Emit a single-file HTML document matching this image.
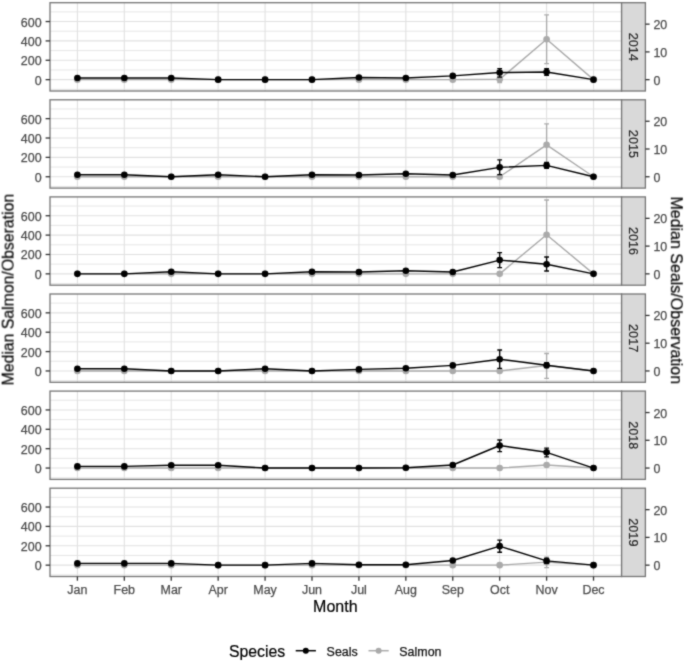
<!DOCTYPE html>
<html><head><meta charset="utf-8"><style>
html,body{margin:0;padding:0;background:#fff;}
svg{display:block;font-family:"Liberation Sans",sans-serif;}
.ax{font-size:12.45px;fill:#4d4d4d;stroke:#4d4d4d;stroke-width:0.25;}
.st{font-size:12.7px;fill:#262626;stroke:#262626;stroke-width:0.2;}
.lg{font-size:12.45px;fill:#111;stroke:#111;stroke-width:0.25;}
.ti{font-size:15.8px;fill:#000;stroke:#000;stroke-width:0.2;}
</style></head><body>
<svg width="685" height="663" viewBox="0 0 685 663">
<defs><filter id="bl" x="0" y="0" width="100%" height="100%" color-interpolation-filters="sRGB"><feConvolveMatrix order="3" kernelMatrix="1 3 1 3 16 3 1 3 1" edgeMode="duplicate"/></filter></defs>
<g filter="url(#bl)">
<rect width="685" height="663" fill="#fff"/>
<line x1="50" x2="621.6" y1="89.34" y2="89.34" stroke="#e1e1e1" stroke-width="0.85"/>
<line x1="50" x2="621.6" y1="69.97" y2="69.97" stroke="#e1e1e1" stroke-width="0.85"/>
<line x1="50" x2="621.6" y1="50.59" y2="50.59" stroke="#e1e1e1" stroke-width="0.85"/>
<line x1="50" x2="621.6" y1="31.23" y2="31.23" stroke="#e1e1e1" stroke-width="0.85"/>
<line x1="50" x2="621.6" y1="11.86" y2="11.86" stroke="#e1e1e1" stroke-width="0.85"/>
<line x1="50" x2="621.6" y1="79.65" y2="79.65" stroke="#e1e1e1" stroke-width="1.1"/>
<line x1="50" x2="621.6" y1="60.28" y2="60.28" stroke="#e1e1e1" stroke-width="1.1"/>
<line x1="50" x2="621.6" y1="40.91" y2="40.91" stroke="#e1e1e1" stroke-width="1.1"/>
<line x1="50" x2="621.6" y1="21.54" y2="21.54" stroke="#e1e1e1" stroke-width="1.1"/>
<line x1="77.4" x2="77.4" y1="2.7" y2="91" stroke="#e1e1e1" stroke-width="1.1"/>
<line x1="124.32" x2="124.32" y1="2.7" y2="91" stroke="#e1e1e1" stroke-width="1.1"/>
<line x1="171.24" x2="171.24" y1="2.7" y2="91" stroke="#e1e1e1" stroke-width="1.1"/>
<line x1="218.16" x2="218.16" y1="2.7" y2="91" stroke="#e1e1e1" stroke-width="1.1"/>
<line x1="265.08" x2="265.08" y1="2.7" y2="91" stroke="#e1e1e1" stroke-width="1.1"/>
<line x1="312" x2="312" y1="2.7" y2="91" stroke="#e1e1e1" stroke-width="1.1"/>
<line x1="358.92" x2="358.92" y1="2.7" y2="91" stroke="#e1e1e1" stroke-width="1.1"/>
<line x1="405.84" x2="405.84" y1="2.7" y2="91" stroke="#e1e1e1" stroke-width="1.1"/>
<line x1="452.76" x2="452.76" y1="2.7" y2="91" stroke="#e1e1e1" stroke-width="1.1"/>
<line x1="499.68" x2="499.68" y1="2.7" y2="91" stroke="#e1e1e1" stroke-width="1.1"/>
<line x1="546.6" x2="546.6" y1="2.7" y2="91" stroke="#e1e1e1" stroke-width="1.1"/>
<line x1="593.52" x2="593.52" y1="2.7" y2="91" stroke="#e1e1e1" stroke-width="1.1"/>
<path d="M497.28 76.15H502.08M499.68 76.15V82.6M497.28 82.6H502.08" stroke="#aaaaaa" stroke-width="1.3" fill="none"/>
<path d="M544.2 14.9H549M546.6 14.9V63.7M544.2 63.7H549" stroke="#aaaaaa" stroke-width="1.3" fill="none"/>
<path d="M77.4 79.65 L124.32 79.65 L171.24 79.65 L218.16 79.65 L265.08 79.65 L312 79.65 L358.92 79.65 L405.84 79.65 L452.76 79.65 L499.68 79.3 L546.6 39.3 L593.52 79.65" stroke="#aaaaaa" stroke-width="1.4" fill="none" stroke-linejoin="round"/>
<circle cx="77.4" cy="79.65" r="3.3" fill="#aaaaaa"/>
<circle cx="124.32" cy="79.65" r="3.3" fill="#aaaaaa"/>
<circle cx="171.24" cy="79.65" r="3.3" fill="#aaaaaa"/>
<circle cx="218.16" cy="79.65" r="3.3" fill="#aaaaaa"/>
<circle cx="265.08" cy="79.65" r="3.3" fill="#aaaaaa"/>
<circle cx="312" cy="79.65" r="3.3" fill="#aaaaaa"/>
<circle cx="358.92" cy="79.65" r="3.3" fill="#aaaaaa"/>
<circle cx="405.84" cy="79.65" r="3.3" fill="#aaaaaa"/>
<circle cx="452.76" cy="79.65" r="3.3" fill="#aaaaaa"/>
<circle cx="499.68" cy="79.3" r="3.3" fill="#aaaaaa"/>
<circle cx="546.6" cy="39.3" r="3.3" fill="#aaaaaa"/>
<circle cx="593.52" cy="79.65" r="3.3" fill="#aaaaaa"/>
<path d="M497.28 68.7H502.08M499.68 68.7V77.1M497.28 77.1H502.08" stroke="#000000" stroke-width="1.3" fill="none"/>
<path d="M544.2 68.7H549M546.6 68.7V75.4M544.2 75.4H549" stroke="#000000" stroke-width="1.3" fill="none"/>
<path d="M77.4 78 L124.32 78 L171.24 78 L218.16 79.65 L265.08 79.65 L312 79.65 L358.92 77.5 L405.84 78.05 L452.76 75.9 L499.68 72.55 L546.6 72 L593.52 79.65" stroke="#000000" stroke-width="1.4" fill="none" stroke-linejoin="round"/>
<circle cx="77.4" cy="78" r="3.3" fill="#000000"/>
<circle cx="124.32" cy="78" r="3.3" fill="#000000"/>
<circle cx="171.24" cy="78" r="3.3" fill="#000000"/>
<circle cx="218.16" cy="79.65" r="3.3" fill="#000000"/>
<circle cx="265.08" cy="79.65" r="3.3" fill="#000000"/>
<circle cx="312" cy="79.65" r="3.3" fill="#000000"/>
<circle cx="358.92" cy="77.5" r="3.3" fill="#000000"/>
<circle cx="405.84" cy="78.05" r="3.3" fill="#000000"/>
<circle cx="452.76" cy="75.9" r="3.3" fill="#000000"/>
<circle cx="499.68" cy="72.55" r="3.3" fill="#000000"/>
<circle cx="546.6" cy="72" r="3.3" fill="#000000"/>
<circle cx="593.52" cy="79.65" r="3.3" fill="#000000"/>
<rect x="50" y="2.7" width="571.6" height="88.3" fill="none" stroke="#767676" stroke-width="1.3"/>
<rect x="621.6" y="2.7" width="23.8" height="88.3" fill="#d9d9d9" stroke="#767676" stroke-width="1.3"/>
<text x="0" y="0" transform="translate(633.5 46.85) rotate(90)" text-anchor="middle" dy="0.36em" class="st">2014</text>
<line x1="45.6" x2="50" y1="79.65" y2="79.65" stroke="#333" stroke-width="1.3"/>
<text x="41.6" y="84.65" text-anchor="end" class="ax">0</text>
<line x1="45.6" x2="50" y1="60.28" y2="60.28" stroke="#333" stroke-width="1.3"/>
<text x="41.6" y="65.28" text-anchor="end" class="ax">200</text>
<line x1="45.6" x2="50" y1="40.91" y2="40.91" stroke="#333" stroke-width="1.3"/>
<text x="41.6" y="45.91" text-anchor="end" class="ax">400</text>
<line x1="45.6" x2="50" y1="21.54" y2="21.54" stroke="#333" stroke-width="1.3"/>
<text x="41.6" y="26.54" text-anchor="end" class="ax">600</text>
<line x1="645.4" x2="649.6" y1="79.65" y2="79.65" stroke="#333" stroke-width="1.3"/>
<text x="653.4" y="84.65" class="ax">0</text>
<line x1="645.4" x2="649.6" y1="51.9" y2="51.9" stroke="#333" stroke-width="1.3"/>
<text x="653.4" y="56.9" class="ax">10</text>
<line x1="645.4" x2="649.6" y1="24.15" y2="24.15" stroke="#333" stroke-width="1.3"/>
<text x="653.4" y="29.15" class="ax">20</text>
<line x1="50" x2="621.6" y1="186.44" y2="186.44" stroke="#e1e1e1" stroke-width="0.85"/>
<line x1="50" x2="621.6" y1="167.06" y2="167.06" stroke="#e1e1e1" stroke-width="0.85"/>
<line x1="50" x2="621.6" y1="147.69" y2="147.69" stroke="#e1e1e1" stroke-width="0.85"/>
<line x1="50" x2="621.6" y1="128.32" y2="128.32" stroke="#e1e1e1" stroke-width="0.85"/>
<line x1="50" x2="621.6" y1="108.95" y2="108.95" stroke="#e1e1e1" stroke-width="0.85"/>
<line x1="50" x2="621.6" y1="176.75" y2="176.75" stroke="#e1e1e1" stroke-width="1.1"/>
<line x1="50" x2="621.6" y1="157.38" y2="157.38" stroke="#e1e1e1" stroke-width="1.1"/>
<line x1="50" x2="621.6" y1="138.01" y2="138.01" stroke="#e1e1e1" stroke-width="1.1"/>
<line x1="50" x2="621.6" y1="118.64" y2="118.64" stroke="#e1e1e1" stroke-width="1.1"/>
<line x1="77.4" x2="77.4" y1="99.8" y2="188.1" stroke="#e1e1e1" stroke-width="1.1"/>
<line x1="124.32" x2="124.32" y1="99.8" y2="188.1" stroke="#e1e1e1" stroke-width="1.1"/>
<line x1="171.24" x2="171.24" y1="99.8" y2="188.1" stroke="#e1e1e1" stroke-width="1.1"/>
<line x1="218.16" x2="218.16" y1="99.8" y2="188.1" stroke="#e1e1e1" stroke-width="1.1"/>
<line x1="265.08" x2="265.08" y1="99.8" y2="188.1" stroke="#e1e1e1" stroke-width="1.1"/>
<line x1="312" x2="312" y1="99.8" y2="188.1" stroke="#e1e1e1" stroke-width="1.1"/>
<line x1="358.92" x2="358.92" y1="99.8" y2="188.1" stroke="#e1e1e1" stroke-width="1.1"/>
<line x1="405.84" x2="405.84" y1="99.8" y2="188.1" stroke="#e1e1e1" stroke-width="1.1"/>
<line x1="452.76" x2="452.76" y1="99.8" y2="188.1" stroke="#e1e1e1" stroke-width="1.1"/>
<line x1="499.68" x2="499.68" y1="99.8" y2="188.1" stroke="#e1e1e1" stroke-width="1.1"/>
<line x1="546.6" x2="546.6" y1="99.8" y2="188.1" stroke="#e1e1e1" stroke-width="1.1"/>
<line x1="593.52" x2="593.52" y1="99.8" y2="188.1" stroke="#e1e1e1" stroke-width="1.1"/>
<path d="M544.2 123.8H549M546.6 123.8V162.75M544.2 162.75H549" stroke="#aaaaaa" stroke-width="1.3" fill="none"/>
<path d="M77.4 176.75 L124.32 176.75 L171.24 176.75 L218.16 176.75 L265.08 176.75 L312 176.75 L358.92 176.75 L405.84 176.75 L452.76 176.75 L499.68 176.75 L546.6 144.8 L593.52 176.75" stroke="#aaaaaa" stroke-width="1.4" fill="none" stroke-linejoin="round"/>
<circle cx="77.4" cy="176.75" r="3.3" fill="#aaaaaa"/>
<circle cx="124.32" cy="176.75" r="3.3" fill="#aaaaaa"/>
<circle cx="171.24" cy="176.75" r="3.3" fill="#aaaaaa"/>
<circle cx="218.16" cy="176.75" r="3.3" fill="#aaaaaa"/>
<circle cx="265.08" cy="176.75" r="3.3" fill="#aaaaaa"/>
<circle cx="312" cy="176.75" r="3.3" fill="#aaaaaa"/>
<circle cx="358.92" cy="176.75" r="3.3" fill="#aaaaaa"/>
<circle cx="405.84" cy="176.75" r="3.3" fill="#aaaaaa"/>
<circle cx="452.76" cy="176.75" r="3.3" fill="#aaaaaa"/>
<circle cx="499.68" cy="176.75" r="3.3" fill="#aaaaaa"/>
<circle cx="546.6" cy="144.8" r="3.3" fill="#aaaaaa"/>
<circle cx="593.52" cy="176.75" r="3.3" fill="#aaaaaa"/>
<path d="M497.28 159.95H502.08M499.68 159.95V174.7M497.28 174.7H502.08" stroke="#000000" stroke-width="1.3" fill="none"/>
<path d="M544.2 162.35H549M546.6 162.35V168.45M544.2 168.45H549" stroke="#000000" stroke-width="1.3" fill="none"/>
<path d="M77.4 174.8 L124.32 174.8 L171.24 176.75 L218.16 174.8 L265.08 176.75 L312 174.8 L358.92 175 L405.84 173.7 L452.76 175 L499.68 167.35 L546.6 165.4 L593.52 176.75" stroke="#000000" stroke-width="1.4" fill="none" stroke-linejoin="round"/>
<circle cx="77.4" cy="174.8" r="3.3" fill="#000000"/>
<circle cx="124.32" cy="174.8" r="3.3" fill="#000000"/>
<circle cx="171.24" cy="176.75" r="3.3" fill="#000000"/>
<circle cx="218.16" cy="174.8" r="3.3" fill="#000000"/>
<circle cx="265.08" cy="176.75" r="3.3" fill="#000000"/>
<circle cx="312" cy="174.8" r="3.3" fill="#000000"/>
<circle cx="358.92" cy="175" r="3.3" fill="#000000"/>
<circle cx="405.84" cy="173.7" r="3.3" fill="#000000"/>
<circle cx="452.76" cy="175" r="3.3" fill="#000000"/>
<circle cx="499.68" cy="167.35" r="3.3" fill="#000000"/>
<circle cx="546.6" cy="165.4" r="3.3" fill="#000000"/>
<circle cx="593.52" cy="176.75" r="3.3" fill="#000000"/>
<rect x="50" y="99.8" width="571.6" height="88.3" fill="none" stroke="#767676" stroke-width="1.3"/>
<rect x="621.6" y="99.8" width="23.8" height="88.3" fill="#d9d9d9" stroke="#767676" stroke-width="1.3"/>
<text x="0" y="0" transform="translate(633.5 143.95) rotate(90)" text-anchor="middle" dy="0.36em" class="st">2015</text>
<line x1="45.6" x2="50" y1="176.75" y2="176.75" stroke="#333" stroke-width="1.3"/>
<text x="41.6" y="181.75" text-anchor="end" class="ax">0</text>
<line x1="45.6" x2="50" y1="157.38" y2="157.38" stroke="#333" stroke-width="1.3"/>
<text x="41.6" y="162.38" text-anchor="end" class="ax">200</text>
<line x1="45.6" x2="50" y1="138.01" y2="138.01" stroke="#333" stroke-width="1.3"/>
<text x="41.6" y="143.01" text-anchor="end" class="ax">400</text>
<line x1="45.6" x2="50" y1="118.64" y2="118.64" stroke="#333" stroke-width="1.3"/>
<text x="41.6" y="123.64" text-anchor="end" class="ax">600</text>
<line x1="645.4" x2="649.6" y1="176.75" y2="176.75" stroke="#333" stroke-width="1.3"/>
<text x="653.4" y="181.75" class="ax">0</text>
<line x1="645.4" x2="649.6" y1="149" y2="149" stroke="#333" stroke-width="1.3"/>
<text x="653.4" y="154" class="ax">10</text>
<line x1="645.4" x2="649.6" y1="121.25" y2="121.25" stroke="#333" stroke-width="1.3"/>
<text x="653.4" y="126.25" class="ax">20</text>
<line x1="50" x2="621.6" y1="283.53" y2="283.53" stroke="#e1e1e1" stroke-width="0.85"/>
<line x1="50" x2="621.6" y1="264.16" y2="264.16" stroke="#e1e1e1" stroke-width="0.85"/>
<line x1="50" x2="621.6" y1="244.79" y2="244.79" stroke="#e1e1e1" stroke-width="0.85"/>
<line x1="50" x2="621.6" y1="225.42" y2="225.42" stroke="#e1e1e1" stroke-width="0.85"/>
<line x1="50" x2="621.6" y1="206.05" y2="206.05" stroke="#e1e1e1" stroke-width="0.85"/>
<line x1="50" x2="621.6" y1="273.85" y2="273.85" stroke="#e1e1e1" stroke-width="1.1"/>
<line x1="50" x2="621.6" y1="254.48" y2="254.48" stroke="#e1e1e1" stroke-width="1.1"/>
<line x1="50" x2="621.6" y1="235.11" y2="235.11" stroke="#e1e1e1" stroke-width="1.1"/>
<line x1="50" x2="621.6" y1="215.74" y2="215.74" stroke="#e1e1e1" stroke-width="1.1"/>
<line x1="77.4" x2="77.4" y1="196.9" y2="285.2" stroke="#e1e1e1" stroke-width="1.1"/>
<line x1="124.32" x2="124.32" y1="196.9" y2="285.2" stroke="#e1e1e1" stroke-width="1.1"/>
<line x1="171.24" x2="171.24" y1="196.9" y2="285.2" stroke="#e1e1e1" stroke-width="1.1"/>
<line x1="218.16" x2="218.16" y1="196.9" y2="285.2" stroke="#e1e1e1" stroke-width="1.1"/>
<line x1="265.08" x2="265.08" y1="196.9" y2="285.2" stroke="#e1e1e1" stroke-width="1.1"/>
<line x1="312" x2="312" y1="196.9" y2="285.2" stroke="#e1e1e1" stroke-width="1.1"/>
<line x1="358.92" x2="358.92" y1="196.9" y2="285.2" stroke="#e1e1e1" stroke-width="1.1"/>
<line x1="405.84" x2="405.84" y1="196.9" y2="285.2" stroke="#e1e1e1" stroke-width="1.1"/>
<line x1="452.76" x2="452.76" y1="196.9" y2="285.2" stroke="#e1e1e1" stroke-width="1.1"/>
<line x1="499.68" x2="499.68" y1="196.9" y2="285.2" stroke="#e1e1e1" stroke-width="1.1"/>
<line x1="546.6" x2="546.6" y1="196.9" y2="285.2" stroke="#e1e1e1" stroke-width="1.1"/>
<line x1="593.52" x2="593.52" y1="196.9" y2="285.2" stroke="#e1e1e1" stroke-width="1.1"/>
<path d="M544.2 200H549M546.6 200V263.85M544.2 263.85H549" stroke="#aaaaaa" stroke-width="1.3" fill="none"/>
<path d="M77.4 273.85 L124.32 273.85 L171.24 273.85 L218.16 273.85 L265.08 273.85 L312 273.85 L358.92 273.85 L405.84 273.85 L452.76 273.85 L499.68 273.85 L546.6 234.7 L593.52 273.85" stroke="#aaaaaa" stroke-width="1.4" fill="none" stroke-linejoin="round"/>
<circle cx="77.4" cy="273.85" r="3.3" fill="#aaaaaa"/>
<circle cx="124.32" cy="273.85" r="3.3" fill="#aaaaaa"/>
<circle cx="171.24" cy="273.85" r="3.3" fill="#aaaaaa"/>
<circle cx="218.16" cy="273.85" r="3.3" fill="#aaaaaa"/>
<circle cx="265.08" cy="273.85" r="3.3" fill="#aaaaaa"/>
<circle cx="312" cy="273.85" r="3.3" fill="#aaaaaa"/>
<circle cx="358.92" cy="273.85" r="3.3" fill="#aaaaaa"/>
<circle cx="405.84" cy="273.85" r="3.3" fill="#aaaaaa"/>
<circle cx="452.76" cy="273.85" r="3.3" fill="#aaaaaa"/>
<circle cx="499.68" cy="273.85" r="3.3" fill="#aaaaaa"/>
<circle cx="546.6" cy="234.7" r="3.3" fill="#aaaaaa"/>
<circle cx="593.52" cy="273.85" r="3.3" fill="#aaaaaa"/>
<path d="M497.28 252.7H502.08M499.68 252.7V267.6M497.28 267.6H502.08" stroke="#000000" stroke-width="1.3" fill="none"/>
<path d="M544.2 257H549M546.6 257V271M544.2 271H549" stroke="#000000" stroke-width="1.3" fill="none"/>
<path d="M77.4 273.85 L124.32 273.85 L171.24 271.8 L218.16 273.85 L265.08 273.85 L312 271.8 L358.92 272 L405.84 270.7 L452.76 272 L499.68 260.1 L546.6 264.2 L593.52 273.85" stroke="#000000" stroke-width="1.4" fill="none" stroke-linejoin="round"/>
<circle cx="77.4" cy="273.85" r="3.3" fill="#000000"/>
<circle cx="124.32" cy="273.85" r="3.3" fill="#000000"/>
<circle cx="171.24" cy="271.8" r="3.3" fill="#000000"/>
<circle cx="218.16" cy="273.85" r="3.3" fill="#000000"/>
<circle cx="265.08" cy="273.85" r="3.3" fill="#000000"/>
<circle cx="312" cy="271.8" r="3.3" fill="#000000"/>
<circle cx="358.92" cy="272" r="3.3" fill="#000000"/>
<circle cx="405.84" cy="270.7" r="3.3" fill="#000000"/>
<circle cx="452.76" cy="272" r="3.3" fill="#000000"/>
<circle cx="499.68" cy="260.1" r="3.3" fill="#000000"/>
<circle cx="546.6" cy="264.2" r="3.3" fill="#000000"/>
<circle cx="593.52" cy="273.85" r="3.3" fill="#000000"/>
<rect x="50" y="196.9" width="571.6" height="88.3" fill="none" stroke="#767676" stroke-width="1.3"/>
<rect x="621.6" y="196.9" width="23.8" height="88.3" fill="#d9d9d9" stroke="#767676" stroke-width="1.3"/>
<text x="0" y="0" transform="translate(633.5 241.05) rotate(90)" text-anchor="middle" dy="0.36em" class="st">2016</text>
<line x1="45.6" x2="50" y1="273.85" y2="273.85" stroke="#333" stroke-width="1.3"/>
<text x="41.6" y="278.85" text-anchor="end" class="ax">0</text>
<line x1="45.6" x2="50" y1="254.48" y2="254.48" stroke="#333" stroke-width="1.3"/>
<text x="41.6" y="259.48" text-anchor="end" class="ax">200</text>
<line x1="45.6" x2="50" y1="235.11" y2="235.11" stroke="#333" stroke-width="1.3"/>
<text x="41.6" y="240.11" text-anchor="end" class="ax">400</text>
<line x1="45.6" x2="50" y1="215.74" y2="215.74" stroke="#333" stroke-width="1.3"/>
<text x="41.6" y="220.74" text-anchor="end" class="ax">600</text>
<line x1="645.4" x2="649.6" y1="273.85" y2="273.85" stroke="#333" stroke-width="1.3"/>
<text x="653.4" y="278.85" class="ax">0</text>
<line x1="645.4" x2="649.6" y1="246.1" y2="246.1" stroke="#333" stroke-width="1.3"/>
<text x="653.4" y="251.1" class="ax">10</text>
<line x1="645.4" x2="649.6" y1="218.35" y2="218.35" stroke="#333" stroke-width="1.3"/>
<text x="653.4" y="223.35" class="ax">20</text>
<line x1="50" x2="621.6" y1="380.63" y2="380.63" stroke="#e1e1e1" stroke-width="0.85"/>
<line x1="50" x2="621.6" y1="361.26" y2="361.26" stroke="#e1e1e1" stroke-width="0.85"/>
<line x1="50" x2="621.6" y1="341.89" y2="341.89" stroke="#e1e1e1" stroke-width="0.85"/>
<line x1="50" x2="621.6" y1="322.52" y2="322.52" stroke="#e1e1e1" stroke-width="0.85"/>
<line x1="50" x2="621.6" y1="303.15" y2="303.15" stroke="#e1e1e1" stroke-width="0.85"/>
<line x1="50" x2="621.6" y1="370.95" y2="370.95" stroke="#e1e1e1" stroke-width="1.1"/>
<line x1="50" x2="621.6" y1="351.58" y2="351.58" stroke="#e1e1e1" stroke-width="1.1"/>
<line x1="50" x2="621.6" y1="332.21" y2="332.21" stroke="#e1e1e1" stroke-width="1.1"/>
<line x1="50" x2="621.6" y1="312.84" y2="312.84" stroke="#e1e1e1" stroke-width="1.1"/>
<line x1="77.4" x2="77.4" y1="294" y2="382.3" stroke="#e1e1e1" stroke-width="1.1"/>
<line x1="124.32" x2="124.32" y1="294" y2="382.3" stroke="#e1e1e1" stroke-width="1.1"/>
<line x1="171.24" x2="171.24" y1="294" y2="382.3" stroke="#e1e1e1" stroke-width="1.1"/>
<line x1="218.16" x2="218.16" y1="294" y2="382.3" stroke="#e1e1e1" stroke-width="1.1"/>
<line x1="265.08" x2="265.08" y1="294" y2="382.3" stroke="#e1e1e1" stroke-width="1.1"/>
<line x1="312" x2="312" y1="294" y2="382.3" stroke="#e1e1e1" stroke-width="1.1"/>
<line x1="358.92" x2="358.92" y1="294" y2="382.3" stroke="#e1e1e1" stroke-width="1.1"/>
<line x1="405.84" x2="405.84" y1="294" y2="382.3" stroke="#e1e1e1" stroke-width="1.1"/>
<line x1="452.76" x2="452.76" y1="294" y2="382.3" stroke="#e1e1e1" stroke-width="1.1"/>
<line x1="499.68" x2="499.68" y1="294" y2="382.3" stroke="#e1e1e1" stroke-width="1.1"/>
<line x1="546.6" x2="546.6" y1="294" y2="382.3" stroke="#e1e1e1" stroke-width="1.1"/>
<line x1="593.52" x2="593.52" y1="294" y2="382.3" stroke="#e1e1e1" stroke-width="1.1"/>
<path d="M544.2 353.5H549M546.6 353.5V378.4M544.2 378.4H549" stroke="#aaaaaa" stroke-width="1.3" fill="none"/>
<path d="M77.4 370.95 L124.32 370.95 L171.24 370.95 L218.16 370.95 L265.08 370.95 L312 370.95 L358.92 370.95 L405.84 370.95 L452.76 370.95 L499.68 370.95 L546.6 365.5 L593.52 370.95" stroke="#aaaaaa" stroke-width="1.4" fill="none" stroke-linejoin="round"/>
<circle cx="77.4" cy="370.95" r="3.3" fill="#aaaaaa"/>
<circle cx="124.32" cy="370.95" r="3.3" fill="#aaaaaa"/>
<circle cx="171.24" cy="370.95" r="3.3" fill="#aaaaaa"/>
<circle cx="218.16" cy="370.95" r="3.3" fill="#aaaaaa"/>
<circle cx="265.08" cy="370.95" r="3.3" fill="#aaaaaa"/>
<circle cx="312" cy="370.95" r="3.3" fill="#aaaaaa"/>
<circle cx="358.92" cy="370.95" r="3.3" fill="#aaaaaa"/>
<circle cx="405.84" cy="370.95" r="3.3" fill="#aaaaaa"/>
<circle cx="452.76" cy="370.95" r="3.3" fill="#aaaaaa"/>
<circle cx="499.68" cy="370.95" r="3.3" fill="#aaaaaa"/>
<circle cx="546.6" cy="365.5" r="3.3" fill="#aaaaaa"/>
<circle cx="593.52" cy="370.95" r="3.3" fill="#aaaaaa"/>
<path d="M497.28 350H502.08M499.68 350V368.4M497.28 368.4H502.08" stroke="#000000" stroke-width="1.3" fill="none"/>
<path d="M544.2 362.7H549M546.6 362.7V367.7M544.2 367.7H549" stroke="#000000" stroke-width="1.3" fill="none"/>
<path d="M77.4 368.8 L124.32 368.8 L171.24 370.95 L218.16 370.95 L265.08 368.8 L312 370.95 L358.92 369.4 L405.84 368.2 L452.76 365.4 L499.68 359.2 L546.6 365.2 L593.52 370.95" stroke="#000000" stroke-width="1.4" fill="none" stroke-linejoin="round"/>
<circle cx="77.4" cy="368.8" r="3.3" fill="#000000"/>
<circle cx="124.32" cy="368.8" r="3.3" fill="#000000"/>
<circle cx="171.24" cy="370.95" r="3.3" fill="#000000"/>
<circle cx="218.16" cy="370.95" r="3.3" fill="#000000"/>
<circle cx="265.08" cy="368.8" r="3.3" fill="#000000"/>
<circle cx="312" cy="370.95" r="3.3" fill="#000000"/>
<circle cx="358.92" cy="369.4" r="3.3" fill="#000000"/>
<circle cx="405.84" cy="368.2" r="3.3" fill="#000000"/>
<circle cx="452.76" cy="365.4" r="3.3" fill="#000000"/>
<circle cx="499.68" cy="359.2" r="3.3" fill="#000000"/>
<circle cx="546.6" cy="365.2" r="3.3" fill="#000000"/>
<circle cx="593.52" cy="370.95" r="3.3" fill="#000000"/>
<rect x="50" y="294" width="571.6" height="88.3" fill="none" stroke="#767676" stroke-width="1.3"/>
<rect x="621.6" y="294" width="23.8" height="88.3" fill="#d9d9d9" stroke="#767676" stroke-width="1.3"/>
<text x="0" y="0" transform="translate(633.5 338.15) rotate(90)" text-anchor="middle" dy="0.36em" class="st">2017</text>
<line x1="45.6" x2="50" y1="370.95" y2="370.95" stroke="#333" stroke-width="1.3"/>
<text x="41.6" y="375.95" text-anchor="end" class="ax">0</text>
<line x1="45.6" x2="50" y1="351.58" y2="351.58" stroke="#333" stroke-width="1.3"/>
<text x="41.6" y="356.58" text-anchor="end" class="ax">200</text>
<line x1="45.6" x2="50" y1="332.21" y2="332.21" stroke="#333" stroke-width="1.3"/>
<text x="41.6" y="337.21" text-anchor="end" class="ax">400</text>
<line x1="45.6" x2="50" y1="312.84" y2="312.84" stroke="#333" stroke-width="1.3"/>
<text x="41.6" y="317.84" text-anchor="end" class="ax">600</text>
<line x1="645.4" x2="649.6" y1="370.95" y2="370.95" stroke="#333" stroke-width="1.3"/>
<text x="653.4" y="375.95" class="ax">0</text>
<line x1="645.4" x2="649.6" y1="343.2" y2="343.2" stroke="#333" stroke-width="1.3"/>
<text x="653.4" y="348.2" class="ax">10</text>
<line x1="645.4" x2="649.6" y1="315.45" y2="315.45" stroke="#333" stroke-width="1.3"/>
<text x="653.4" y="320.45" class="ax">20</text>
<line x1="50" x2="621.6" y1="477.73" y2="477.73" stroke="#e1e1e1" stroke-width="0.85"/>
<line x1="50" x2="621.6" y1="458.36" y2="458.36" stroke="#e1e1e1" stroke-width="0.85"/>
<line x1="50" x2="621.6" y1="438.99" y2="438.99" stroke="#e1e1e1" stroke-width="0.85"/>
<line x1="50" x2="621.6" y1="419.62" y2="419.62" stroke="#e1e1e1" stroke-width="0.85"/>
<line x1="50" x2="621.6" y1="400.25" y2="400.25" stroke="#e1e1e1" stroke-width="0.85"/>
<line x1="50" x2="621.6" y1="468.05" y2="468.05" stroke="#e1e1e1" stroke-width="1.1"/>
<line x1="50" x2="621.6" y1="448.68" y2="448.68" stroke="#e1e1e1" stroke-width="1.1"/>
<line x1="50" x2="621.6" y1="429.31" y2="429.31" stroke="#e1e1e1" stroke-width="1.1"/>
<line x1="50" x2="621.6" y1="409.94" y2="409.94" stroke="#e1e1e1" stroke-width="1.1"/>
<line x1="77.4" x2="77.4" y1="391.1" y2="479.4" stroke="#e1e1e1" stroke-width="1.1"/>
<line x1="124.32" x2="124.32" y1="391.1" y2="479.4" stroke="#e1e1e1" stroke-width="1.1"/>
<line x1="171.24" x2="171.24" y1="391.1" y2="479.4" stroke="#e1e1e1" stroke-width="1.1"/>
<line x1="218.16" x2="218.16" y1="391.1" y2="479.4" stroke="#e1e1e1" stroke-width="1.1"/>
<line x1="265.08" x2="265.08" y1="391.1" y2="479.4" stroke="#e1e1e1" stroke-width="1.1"/>
<line x1="312" x2="312" y1="391.1" y2="479.4" stroke="#e1e1e1" stroke-width="1.1"/>
<line x1="358.92" x2="358.92" y1="391.1" y2="479.4" stroke="#e1e1e1" stroke-width="1.1"/>
<line x1="405.84" x2="405.84" y1="391.1" y2="479.4" stroke="#e1e1e1" stroke-width="1.1"/>
<line x1="452.76" x2="452.76" y1="391.1" y2="479.4" stroke="#e1e1e1" stroke-width="1.1"/>
<line x1="499.68" x2="499.68" y1="391.1" y2="479.4" stroke="#e1e1e1" stroke-width="1.1"/>
<line x1="546.6" x2="546.6" y1="391.1" y2="479.4" stroke="#e1e1e1" stroke-width="1.1"/>
<line x1="593.52" x2="593.52" y1="391.1" y2="479.4" stroke="#e1e1e1" stroke-width="1.1"/>
<path d="M77.4 468.05 L124.32 468.05 L171.24 468.05 L218.16 468.05 L265.08 468.05 L312 468.05 L358.92 468.05 L405.84 468.05 L452.76 468.05 L499.68 468.05 L546.6 465 L593.52 468.05" stroke="#aaaaaa" stroke-width="1.4" fill="none" stroke-linejoin="round"/>
<circle cx="77.4" cy="468.05" r="3.3" fill="#aaaaaa"/>
<circle cx="124.32" cy="468.05" r="3.3" fill="#aaaaaa"/>
<circle cx="171.24" cy="468.05" r="3.3" fill="#aaaaaa"/>
<circle cx="218.16" cy="468.05" r="3.3" fill="#aaaaaa"/>
<circle cx="265.08" cy="468.05" r="3.3" fill="#aaaaaa"/>
<circle cx="312" cy="468.05" r="3.3" fill="#aaaaaa"/>
<circle cx="358.92" cy="468.05" r="3.3" fill="#aaaaaa"/>
<circle cx="405.84" cy="468.05" r="3.3" fill="#aaaaaa"/>
<circle cx="452.76" cy="468.05" r="3.3" fill="#aaaaaa"/>
<circle cx="499.68" cy="468.05" r="3.3" fill="#aaaaaa"/>
<circle cx="546.6" cy="465" r="3.3" fill="#aaaaaa"/>
<circle cx="593.52" cy="468.05" r="3.3" fill="#aaaaaa"/>
<path d="M497.28 440H502.08M499.68 440V451.7M497.28 451.7H502.08" stroke="#000000" stroke-width="1.3" fill="none"/>
<path d="M544.2 448.2H549M546.6 448.2V456.8M544.2 456.8H549" stroke="#000000" stroke-width="1.3" fill="none"/>
<path d="M77.4 466.4 L124.32 466.4 L171.24 465.2 L218.16 465.2 L265.08 468.05 L312 468.05 L358.92 468.05 L405.84 467.7 L452.76 465 L499.68 445.5 L546.6 452.3 L593.52 468.05" stroke="#000000" stroke-width="1.4" fill="none" stroke-linejoin="round"/>
<circle cx="77.4" cy="466.4" r="3.3" fill="#000000"/>
<circle cx="124.32" cy="466.4" r="3.3" fill="#000000"/>
<circle cx="171.24" cy="465.2" r="3.3" fill="#000000"/>
<circle cx="218.16" cy="465.2" r="3.3" fill="#000000"/>
<circle cx="265.08" cy="468.05" r="3.3" fill="#000000"/>
<circle cx="312" cy="468.05" r="3.3" fill="#000000"/>
<circle cx="358.92" cy="468.05" r="3.3" fill="#000000"/>
<circle cx="405.84" cy="467.7" r="3.3" fill="#000000"/>
<circle cx="452.76" cy="465" r="3.3" fill="#000000"/>
<circle cx="499.68" cy="445.5" r="3.3" fill="#000000"/>
<circle cx="546.6" cy="452.3" r="3.3" fill="#000000"/>
<circle cx="593.52" cy="468.05" r="3.3" fill="#000000"/>
<rect x="50" y="391.1" width="571.6" height="88.3" fill="none" stroke="#767676" stroke-width="1.3"/>
<rect x="621.6" y="391.1" width="23.8" height="88.3" fill="#d9d9d9" stroke="#767676" stroke-width="1.3"/>
<text x="0" y="0" transform="translate(633.5 435.25) rotate(90)" text-anchor="middle" dy="0.36em" class="st">2018</text>
<line x1="45.6" x2="50" y1="468.05" y2="468.05" stroke="#333" stroke-width="1.3"/>
<text x="41.6" y="473.05" text-anchor="end" class="ax">0</text>
<line x1="45.6" x2="50" y1="448.68" y2="448.68" stroke="#333" stroke-width="1.3"/>
<text x="41.6" y="453.68" text-anchor="end" class="ax">200</text>
<line x1="45.6" x2="50" y1="429.31" y2="429.31" stroke="#333" stroke-width="1.3"/>
<text x="41.6" y="434.31" text-anchor="end" class="ax">400</text>
<line x1="45.6" x2="50" y1="409.94" y2="409.94" stroke="#333" stroke-width="1.3"/>
<text x="41.6" y="414.94" text-anchor="end" class="ax">600</text>
<line x1="645.4" x2="649.6" y1="468.05" y2="468.05" stroke="#333" stroke-width="1.3"/>
<text x="653.4" y="473.05" class="ax">0</text>
<line x1="645.4" x2="649.6" y1="440.3" y2="440.3" stroke="#333" stroke-width="1.3"/>
<text x="653.4" y="445.3" class="ax">10</text>
<line x1="645.4" x2="649.6" y1="412.55" y2="412.55" stroke="#333" stroke-width="1.3"/>
<text x="653.4" y="417.55" class="ax">20</text>
<line x1="50" x2="621.6" y1="574.83" y2="574.83" stroke="#e1e1e1" stroke-width="0.85"/>
<line x1="50" x2="621.6" y1="555.47" y2="555.47" stroke="#e1e1e1" stroke-width="0.85"/>
<line x1="50" x2="621.6" y1="536.1" y2="536.1" stroke="#e1e1e1" stroke-width="0.85"/>
<line x1="50" x2="621.6" y1="516.73" y2="516.73" stroke="#e1e1e1" stroke-width="0.85"/>
<line x1="50" x2="621.6" y1="497.35" y2="497.35" stroke="#e1e1e1" stroke-width="0.85"/>
<line x1="50" x2="621.6" y1="565.15" y2="565.15" stroke="#e1e1e1" stroke-width="1.1"/>
<line x1="50" x2="621.6" y1="545.78" y2="545.78" stroke="#e1e1e1" stroke-width="1.1"/>
<line x1="50" x2="621.6" y1="526.41" y2="526.41" stroke="#e1e1e1" stroke-width="1.1"/>
<line x1="50" x2="621.6" y1="507.04" y2="507.04" stroke="#e1e1e1" stroke-width="1.1"/>
<line x1="77.4" x2="77.4" y1="488.2" y2="576.5" stroke="#e1e1e1" stroke-width="1.1"/>
<line x1="124.32" x2="124.32" y1="488.2" y2="576.5" stroke="#e1e1e1" stroke-width="1.1"/>
<line x1="171.24" x2="171.24" y1="488.2" y2="576.5" stroke="#e1e1e1" stroke-width="1.1"/>
<line x1="218.16" x2="218.16" y1="488.2" y2="576.5" stroke="#e1e1e1" stroke-width="1.1"/>
<line x1="265.08" x2="265.08" y1="488.2" y2="576.5" stroke="#e1e1e1" stroke-width="1.1"/>
<line x1="312" x2="312" y1="488.2" y2="576.5" stroke="#e1e1e1" stroke-width="1.1"/>
<line x1="358.92" x2="358.92" y1="488.2" y2="576.5" stroke="#e1e1e1" stroke-width="1.1"/>
<line x1="405.84" x2="405.84" y1="488.2" y2="576.5" stroke="#e1e1e1" stroke-width="1.1"/>
<line x1="452.76" x2="452.76" y1="488.2" y2="576.5" stroke="#e1e1e1" stroke-width="1.1"/>
<line x1="499.68" x2="499.68" y1="488.2" y2="576.5" stroke="#e1e1e1" stroke-width="1.1"/>
<line x1="546.6" x2="546.6" y1="488.2" y2="576.5" stroke="#e1e1e1" stroke-width="1.1"/>
<line x1="593.52" x2="593.52" y1="488.2" y2="576.5" stroke="#e1e1e1" stroke-width="1.1"/>
<path d="M544.2 557.15H549M546.6 557.15V567.7M544.2 567.7H549" stroke="#aaaaaa" stroke-width="1.3" fill="none"/>
<path d="M77.4 565.15 L124.32 565.15 L171.24 565.15 L218.16 565.15 L265.08 565.15 L312 565.15 L358.92 565.15 L405.84 565.15 L452.76 565.15 L499.68 565.15 L546.6 562.15 L593.52 565.15" stroke="#aaaaaa" stroke-width="1.4" fill="none" stroke-linejoin="round"/>
<circle cx="77.4" cy="565.15" r="3.3" fill="#aaaaaa"/>
<circle cx="124.32" cy="565.15" r="3.3" fill="#aaaaaa"/>
<circle cx="171.24" cy="565.15" r="3.3" fill="#aaaaaa"/>
<circle cx="218.16" cy="565.15" r="3.3" fill="#aaaaaa"/>
<circle cx="265.08" cy="565.15" r="3.3" fill="#aaaaaa"/>
<circle cx="312" cy="565.15" r="3.3" fill="#aaaaaa"/>
<circle cx="358.92" cy="565.15" r="3.3" fill="#aaaaaa"/>
<circle cx="405.84" cy="565.15" r="3.3" fill="#aaaaaa"/>
<circle cx="452.76" cy="565.15" r="3.3" fill="#aaaaaa"/>
<circle cx="499.68" cy="565.15" r="3.3" fill="#aaaaaa"/>
<circle cx="546.6" cy="562.15" r="3.3" fill="#aaaaaa"/>
<circle cx="593.52" cy="565.15" r="3.3" fill="#aaaaaa"/>
<path d="M497.28 540.05H502.08M499.68 540.05V552.25M497.28 552.25H502.08" stroke="#000000" stroke-width="1.3" fill="none"/>
<path d="M544.2 558.4H549M546.6 558.4V563.4M544.2 563.4H549" stroke="#000000" stroke-width="1.3" fill="none"/>
<path d="M77.4 563.4 L124.32 563.4 L171.24 563.4 L218.16 565.15 L265.08 565.15 L312 563.4 L358.92 564.7 L405.84 564.7 L452.76 560.5 L499.68 546.15 L546.6 560.9 L593.52 565.15" stroke="#000000" stroke-width="1.4" fill="none" stroke-linejoin="round"/>
<circle cx="77.4" cy="563.4" r="3.3" fill="#000000"/>
<circle cx="124.32" cy="563.4" r="3.3" fill="#000000"/>
<circle cx="171.24" cy="563.4" r="3.3" fill="#000000"/>
<circle cx="218.16" cy="565.15" r="3.3" fill="#000000"/>
<circle cx="265.08" cy="565.15" r="3.3" fill="#000000"/>
<circle cx="312" cy="563.4" r="3.3" fill="#000000"/>
<circle cx="358.92" cy="564.7" r="3.3" fill="#000000"/>
<circle cx="405.84" cy="564.7" r="3.3" fill="#000000"/>
<circle cx="452.76" cy="560.5" r="3.3" fill="#000000"/>
<circle cx="499.68" cy="546.15" r="3.3" fill="#000000"/>
<circle cx="546.6" cy="560.9" r="3.3" fill="#000000"/>
<circle cx="593.52" cy="565.15" r="3.3" fill="#000000"/>
<rect x="50" y="488.2" width="571.6" height="88.3" fill="none" stroke="#767676" stroke-width="1.3"/>
<rect x="621.6" y="488.2" width="23.8" height="88.3" fill="#d9d9d9" stroke="#767676" stroke-width="1.3"/>
<text x="0" y="0" transform="translate(633.5 532.35) rotate(90)" text-anchor="middle" dy="0.36em" class="st">2019</text>
<line x1="45.6" x2="50" y1="565.15" y2="565.15" stroke="#333" stroke-width="1.3"/>
<text x="41.6" y="570.15" text-anchor="end" class="ax">0</text>
<line x1="45.6" x2="50" y1="545.78" y2="545.78" stroke="#333" stroke-width="1.3"/>
<text x="41.6" y="550.78" text-anchor="end" class="ax">200</text>
<line x1="45.6" x2="50" y1="526.41" y2="526.41" stroke="#333" stroke-width="1.3"/>
<text x="41.6" y="531.41" text-anchor="end" class="ax">400</text>
<line x1="45.6" x2="50" y1="507.04" y2="507.04" stroke="#333" stroke-width="1.3"/>
<text x="41.6" y="512.04" text-anchor="end" class="ax">600</text>
<line x1="645.4" x2="649.6" y1="565.15" y2="565.15" stroke="#333" stroke-width="1.3"/>
<text x="653.4" y="570.15" class="ax">0</text>
<line x1="645.4" x2="649.6" y1="537.4" y2="537.4" stroke="#333" stroke-width="1.3"/>
<text x="653.4" y="542.4" class="ax">10</text>
<line x1="645.4" x2="649.6" y1="509.65" y2="509.65" stroke="#333" stroke-width="1.3"/>
<text x="653.4" y="514.65" class="ax">20</text>
<line x1="77.4" x2="77.4" y1="576.5" y2="580.7" stroke="#333" stroke-width="1.3"/>
<text x="77.4" y="593.8" text-anchor="middle" class="ax">Jan</text>
<line x1="124.32" x2="124.32" y1="576.5" y2="580.7" stroke="#333" stroke-width="1.3"/>
<text x="124.32" y="593.8" text-anchor="middle" class="ax">Feb</text>
<line x1="171.24" x2="171.24" y1="576.5" y2="580.7" stroke="#333" stroke-width="1.3"/>
<text x="171.24" y="593.8" text-anchor="middle" class="ax">Mar</text>
<line x1="218.16" x2="218.16" y1="576.5" y2="580.7" stroke="#333" stroke-width="1.3"/>
<text x="218.16" y="593.8" text-anchor="middle" class="ax">Apr</text>
<line x1="265.08" x2="265.08" y1="576.5" y2="580.7" stroke="#333" stroke-width="1.3"/>
<text x="265.08" y="593.8" text-anchor="middle" class="ax">May</text>
<line x1="312" x2="312" y1="576.5" y2="580.7" stroke="#333" stroke-width="1.3"/>
<text x="312" y="593.8" text-anchor="middle" class="ax">Jun</text>
<line x1="358.92" x2="358.92" y1="576.5" y2="580.7" stroke="#333" stroke-width="1.3"/>
<text x="358.92" y="593.8" text-anchor="middle" class="ax">Jul</text>
<line x1="405.84" x2="405.84" y1="576.5" y2="580.7" stroke="#333" stroke-width="1.3"/>
<text x="405.84" y="593.8" text-anchor="middle" class="ax">Aug</text>
<line x1="452.76" x2="452.76" y1="576.5" y2="580.7" stroke="#333" stroke-width="1.3"/>
<text x="452.76" y="593.8" text-anchor="middle" class="ax">Sep</text>
<line x1="499.68" x2="499.68" y1="576.5" y2="580.7" stroke="#333" stroke-width="1.3"/>
<text x="499.68" y="593.8" text-anchor="middle" class="ax">Oct</text>
<line x1="546.6" x2="546.6" y1="576.5" y2="580.7" stroke="#333" stroke-width="1.3"/>
<text x="546.6" y="593.8" text-anchor="middle" class="ax">Nov</text>
<line x1="593.52" x2="593.52" y1="576.5" y2="580.7" stroke="#333" stroke-width="1.3"/>
<text x="593.52" y="593.8" text-anchor="middle" class="ax">Dec</text>
<text x="335.3" y="612.0" text-anchor="middle" class="ti" style="font-size:16px">Month</text>
<text x="0" y="0" transform="translate(13.6 289.6) rotate(-90)" text-anchor="middle" class="ti">Median Salmon/Obseration</text>
<text x="0" y="0" transform="translate(670.8 290.3) rotate(90)" text-anchor="middle" class="ti" style="font-size:16px">Median Seals/Observation</text>
<text x="228.9" y="656.6" class="ti">Species</text>
<line x1="295.7" x2="315.9" y1="650.7" y2="650.7" stroke="#000000" stroke-width="1.5"/>
<circle cx="305.8" cy="650.7" r="3" fill="#000000"/>
<text x="326.6" y="656.3" class="lg">Seals</text>
<line x1="368.5" x2="388.7" y1="650.7" y2="650.7" stroke="#aaaaaa" stroke-width="1.5"/>
<circle cx="378.6" cy="650.7" r="3" fill="#aaaaaa"/>
<text x="399.3" y="656.3" class="lg">Salmon</text>
</g>
</svg>
</body></html>
